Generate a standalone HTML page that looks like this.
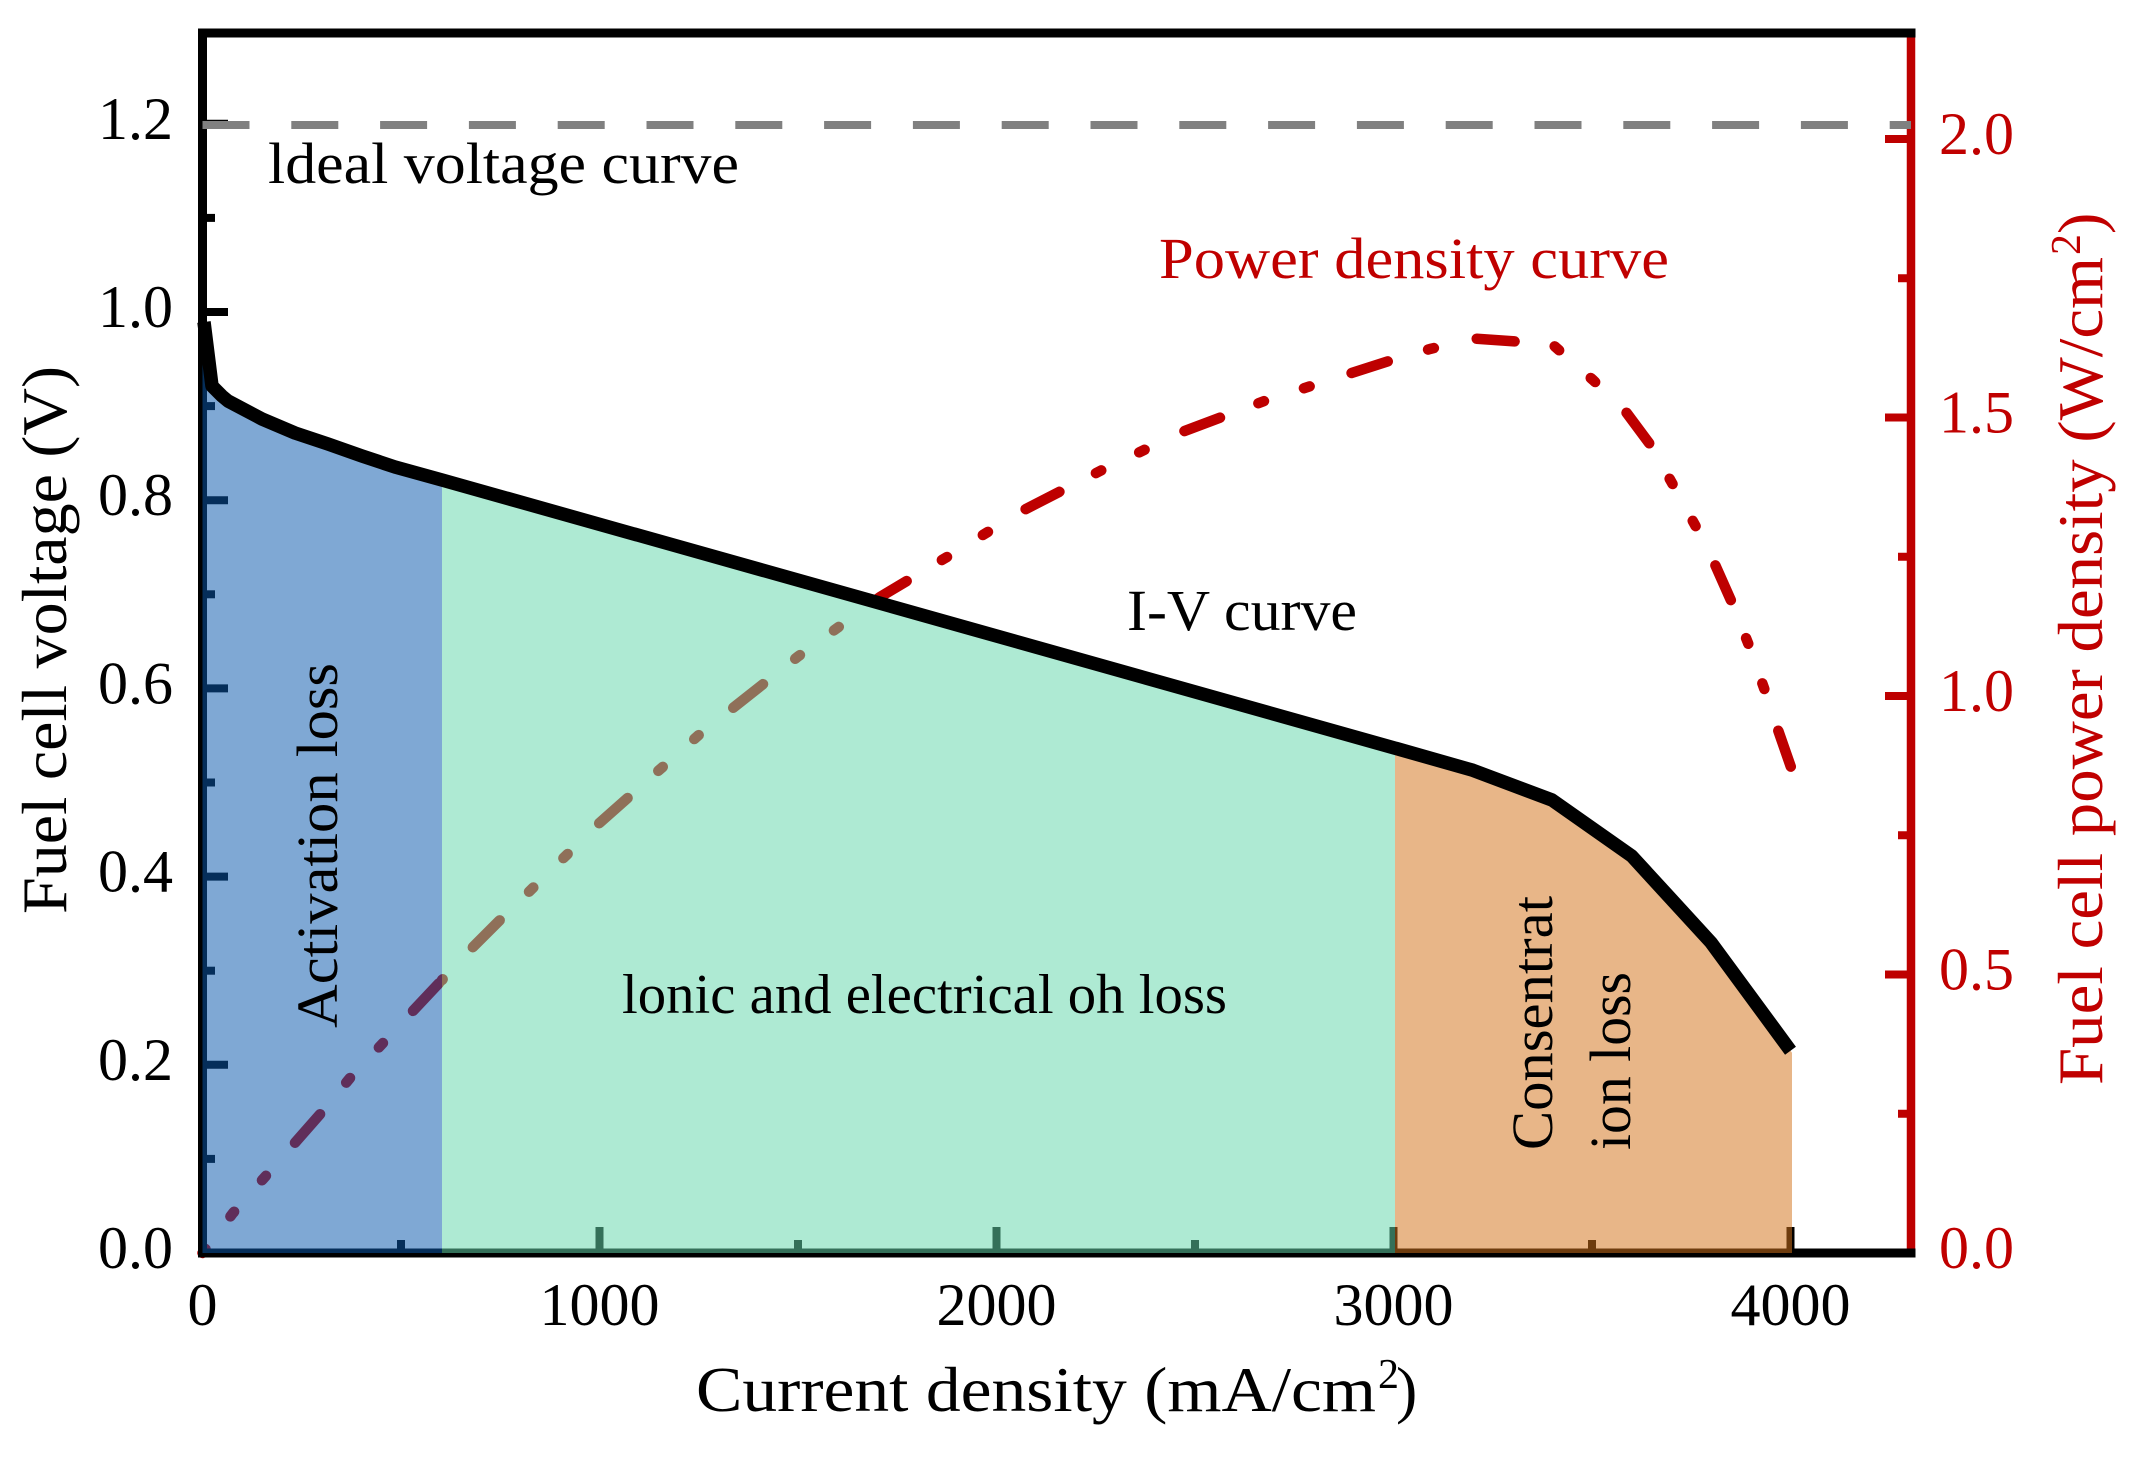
<!DOCTYPE html>
<html>
<head>
<meta charset="utf-8">
<style>
  html, body { margin: 0; padding: 0; background: #ffffff; }
  svg { display: block; }
  text { font-family: "Liberation Serif", "DejaVu Serif", serif; }
</style>
</head>
<body>
<svg width="2141" height="1462" viewBox="0 0 2141 1462" xmlns="http://www.w3.org/2000/svg">
  <rect x="0" y="0" width="2141" height="1462" fill="#ffffff"/>

  <!-- Power density curve (dash-dot-dot), drawn under fills -->
  <g fill="none" stroke="#BE0000" stroke-width="10.5" stroke-linecap="round" stroke-linejoin="round" stroke-dasharray="38 41 6 42 6 44">
    <path stroke-dashoffset="33" d="M202.5,1253 L233,1213 L264,1178 L293,1145 L322,1112 L350,1078 L383,1043 L411,1013 L442,980"/>
    <path stroke-dashoffset="132" d="M442,980 L467,953 L499,921 L599.5,822.9 L698.8,735 L798,656.5 L880,597 L947,557 L1022,511 L1102,470 L1182,432 L1267,400 L1393.5,359.6"/>
    <path stroke-dashoffset="91" d="M1393.5,359.6 L1430,349 L1472.9,338.5 L1552,344 L1593,380 L1623,408 L1652,447 L1672,483 L1695,525 L1713,560 L1733,605 L1748,643 L1764,688 L1777,727 L1793,773"/>
  </g>

  <!-- Right axis (red) -->
  <line x1="1911" y1="33" x2="1911" y2="1253" stroke="#BE0000" stroke-width="8.5"/>
  <g stroke="#BE0000" stroke-width="8">
    <line x1="1911" y1="1253" x2="1885" y2="1253"/>
    <line x1="1911" y1="1113.75" x2="1898" y2="1113.75"/>
    <line x1="1911" y1="974.5" x2="1885" y2="974.5"/>
    <line x1="1911" y1="835.25" x2="1898" y2="835.25"/>
    <line x1="1911" y1="696" x2="1885" y2="696"/>
    <line x1="1911" y1="556.75" x2="1898" y2="556.75"/>
    <line x1="1911" y1="417.5" x2="1885" y2="417.5"/>
    <line x1="1911" y1="278.25" x2="1898" y2="278.25"/>
    <line x1="1911" y1="139" x2="1885" y2="139"/>
  </g>

  <!-- Black spines -->
  <g stroke="#000000" stroke-width="9">
    <line x1="198" y1="33" x2="1915.5" y2="33"/>
    <line x1="198" y1="1253" x2="1915.5" y2="1253"/>
    <line x1="202.5" y1="28.5" x2="202.5" y2="1257.5"/>
  </g>

  <!-- Left ticks -->
  <g stroke="#000000" stroke-width="8">
    <line x1="202.5" y1="1158.9" x2="215" y2="1158.9"/>
    <line x1="202.5" y1="1064.8" x2="228" y2="1064.8"/>
    <line x1="202.5" y1="970.7" x2="215" y2="970.7"/>
    <line x1="202.5" y1="876.6" x2="228" y2="876.6"/>
    <line x1="202.5" y1="782.5" x2="215" y2="782.5"/>
    <line x1="202.5" y1="688.4" x2="228" y2="688.4"/>
    <line x1="202.5" y1="594.3" x2="215" y2="594.3"/>
    <line x1="202.5" y1="500.2" x2="228" y2="500.2"/>
    <line x1="202.5" y1="406.1" x2="215" y2="406.1"/>
    <line x1="202.5" y1="312" x2="228" y2="312"/>
    <line x1="202.5" y1="217.9" x2="215" y2="217.9"/>
    <line x1="202.5" y1="123.8" x2="228" y2="123.8"/>
  </g>

  <!-- Bottom ticks -->
  <g stroke="#000000" stroke-width="8">
    <line x1="401" y1="1253" x2="401" y2="1240"/>
    <line x1="599.5" y1="1253" x2="599.5" y2="1227"/>
    <line x1="798" y1="1253" x2="798" y2="1240"/>
    <line x1="996.5" y1="1253" x2="996.5" y2="1227"/>
    <line x1="1195" y1="1253" x2="1195" y2="1240"/>
    <line x1="1393.5" y1="1253" x2="1393.5" y2="1227"/>
    <line x1="1592" y1="1253" x2="1592" y2="1240"/>
    <line x1="1790.5" y1="1253" x2="1790.5" y2="1227"/>
  </g>

  <!-- Ideal voltage dashed line -->
  <line x1="202.5" y1="125" x2="1911" y2="125" stroke="#808080" stroke-width="8" stroke-dasharray="47 41.8"/>

  <!-- Loss region fills (semi-transparent, over axis & power curve) -->
  <path fill="rgb(9,88,172)" fill-opacity="0.52"
        d="M202.5,1253 L202.5,326 L204,326 L212,386 L222,396 L228,401 L262,419 L295,433 L328,444 L362,456 L395,467 L442,480 L442,1253 Z"/>
  <path fill="rgb(99,215,170)" fill-opacity="0.52"
        d="M442,1253 L442,480 L1395,748.1 L1395,1253 Z"/>
  <path fill="rgb(211,115,26)" fill-opacity="0.52"
        d="M1395,1253 L1395,748.1 L1472.9,770.3 L1552,800 L1631.7,856 L1711,942.5 L1792,1052.7 L1792,1253 Z"/>

  <!-- I-V curve -->
  <path fill="none" stroke="#000000" stroke-width="13.5" stroke-linejoin="round" stroke-linecap="butt"
        d="M204,322 L212,386 L222,396 L228,401 L262,419 L295,433 L328,444 L362,456 L395,467 L442,480 L1393.5,747.7 L1472.9,770.3 L1552,800 L1631.7,856 L1711,942.5 L1790.5,1050.7"/>

  <!-- Left tick labels -->
  <g font-size="60" fill="#000000" text-anchor="end">
    <text x="173" y="1268">0.0</text>
    <text x="173" y="1080">0.2</text>
    <text x="173" y="891.6">0.4</text>
    <text x="173" y="703.4">0.6</text>
    <text x="173" y="515.2">0.8</text>
    <text x="173" y="327">1.0</text>
    <text x="173" y="139">1.2</text>
  </g>

  <!-- Bottom tick labels -->
  <g font-size="60" fill="#000000" text-anchor="middle">
    <text x="202.5" y="1325">0</text>
    <text x="599.5" y="1325">1000</text>
    <text x="996.5" y="1325">2000</text>
    <text x="1393.5" y="1325">3000</text>
    <text x="1790.5" y="1325">4000</text>
  </g>

  <!-- Right tick labels -->
  <g font-size="60" fill="#C00000" text-anchor="start">
    <text x="1939" y="1268">0.0</text>
    <text x="1939" y="989.5">0.5</text>
    <text x="1939" y="711">1.0</text>
    <text x="1939" y="432.5">1.5</text>
    <text x="1939" y="154">2.0</text>
  </g>

  <!-- X axis title -->
  <text x="696" y="1411" font-size="64" fill="#000000" textLength="680" lengthAdjust="spacingAndGlyphs">Current density (mA/cm</text>
  <text x="1378" y="1388" font-size="42" fill="#000000">2</text>
  <text x="1396" y="1411" font-size="64" fill="#000000">)</text>

  <!-- Left Y axis title -->
  <g transform="translate(66,914) rotate(-90)">
    <text x="0" y="0" font-size="64" fill="#000000" textLength="548" lengthAdjust="spacingAndGlyphs">Fuel cell voltage (V)</text>
  </g>

  <!-- Right Y axis title -->
  <g transform="translate(2102,1085) rotate(-90)" fill="#C00000">
    <text x="0" y="0" font-size="64" textLength="828" lengthAdjust="spacingAndGlyphs">Fuel cell power density (W/cm</text>
    <text x="830" y="-22" font-size="42">2</text>
    <text x="851" y="0" font-size="64">)</text>
  </g>

  <!-- In-plot labels -->
  <text x="268" y="183" font-size="58" fill="#000000" textLength="471" lengthAdjust="spacingAndGlyphs">ldeal voltage curve</text>
  <text x="1159" y="278" font-size="58" fill="#C00000" textLength="510" lengthAdjust="spacingAndGlyphs">Power density curve</text>
  <text x="1127" y="630" font-size="58" fill="#000000" textLength="230" lengthAdjust="spacingAndGlyphs">I-V curve</text>
  <text x="622" y="1013" font-size="56" fill="#000000" textLength="605" lengthAdjust="spacingAndGlyphs">lonic and electrical oh loss</text>

  <g transform="translate(337,1028) rotate(-90)">
    <text x="0" y="0" font-size="58" fill="#000000" textLength="365" lengthAdjust="spacingAndGlyphs">Activation loss</text>
  </g>
  <g transform="translate(1552,1150) rotate(-90)">
    <text x="0" y="0" font-size="58" fill="#000000" textLength="254" lengthAdjust="spacingAndGlyphs">Consentrat</text>
  </g>
  <g transform="translate(1630,1150) rotate(-90)">
    <text x="0" y="0" font-size="58" fill="#000000" textLength="178" lengthAdjust="spacingAndGlyphs">ion loss</text>
  </g>
</svg>
</body>
</html>
